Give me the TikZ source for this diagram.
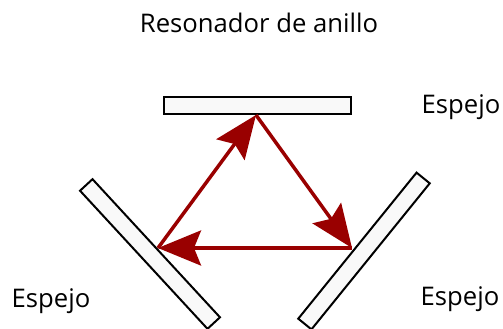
\documentclass[tikz,border=0pt]{standalone}
\usepackage{fontspec}
\setmainfont{Open Sans}
\usetikzlibrary{arrows.meta}
\definecolor{beamred}{HTML}{990000}
\definecolor{mirrorfill}{HTML}{F9F9F9}
\tikzset{
  mirror/.style={draw=black, line width=0.04cm, fill=mirrorfill, minimum width=3.76cm, minimum height=0.34cm, inner sep=0pt},
  beam/.style={draw=beamred, line width=0.07cm, -{Stealth[length=0.86cm, width=0.7cm, inset=0.14cm]}},
  txt/.style={inner sep=0pt, font=\fontsize{14.6pt}{16pt}\selectfont}
}
\begin{document}
\begin{tikzpicture}[x=0.02cm, y=-0.02cm]
    \useasboundingbox (0,0) rectangle (503,328);
    \node[mirror] (T) at (257.5,105) {};
    \node[mirror, rotate=-47.3] (L) at (150,254) {};
    \node[mirror, rotate=51] (R) at (364,251) {};
    \coordinate (a) at (256,115);
    \coordinate (b) at (352,248);
    \coordinate (c) at (158,248);
    \draw[beam] (a) -- (b);
    \draw[beam] (b) -- (c);
    \draw[beam] (c) -- (a);
    \node[txt] (title) at (259,22.5) {Resonador de anillo};
    \node[txt] (eT) at (461,107.5) {Espejo};
    \node[txt] (eL) at (51,301) {Espejo};
    \node[txt] (eR) at (460,299) {Espejo};
\end{tikzpicture}
\end{document}
